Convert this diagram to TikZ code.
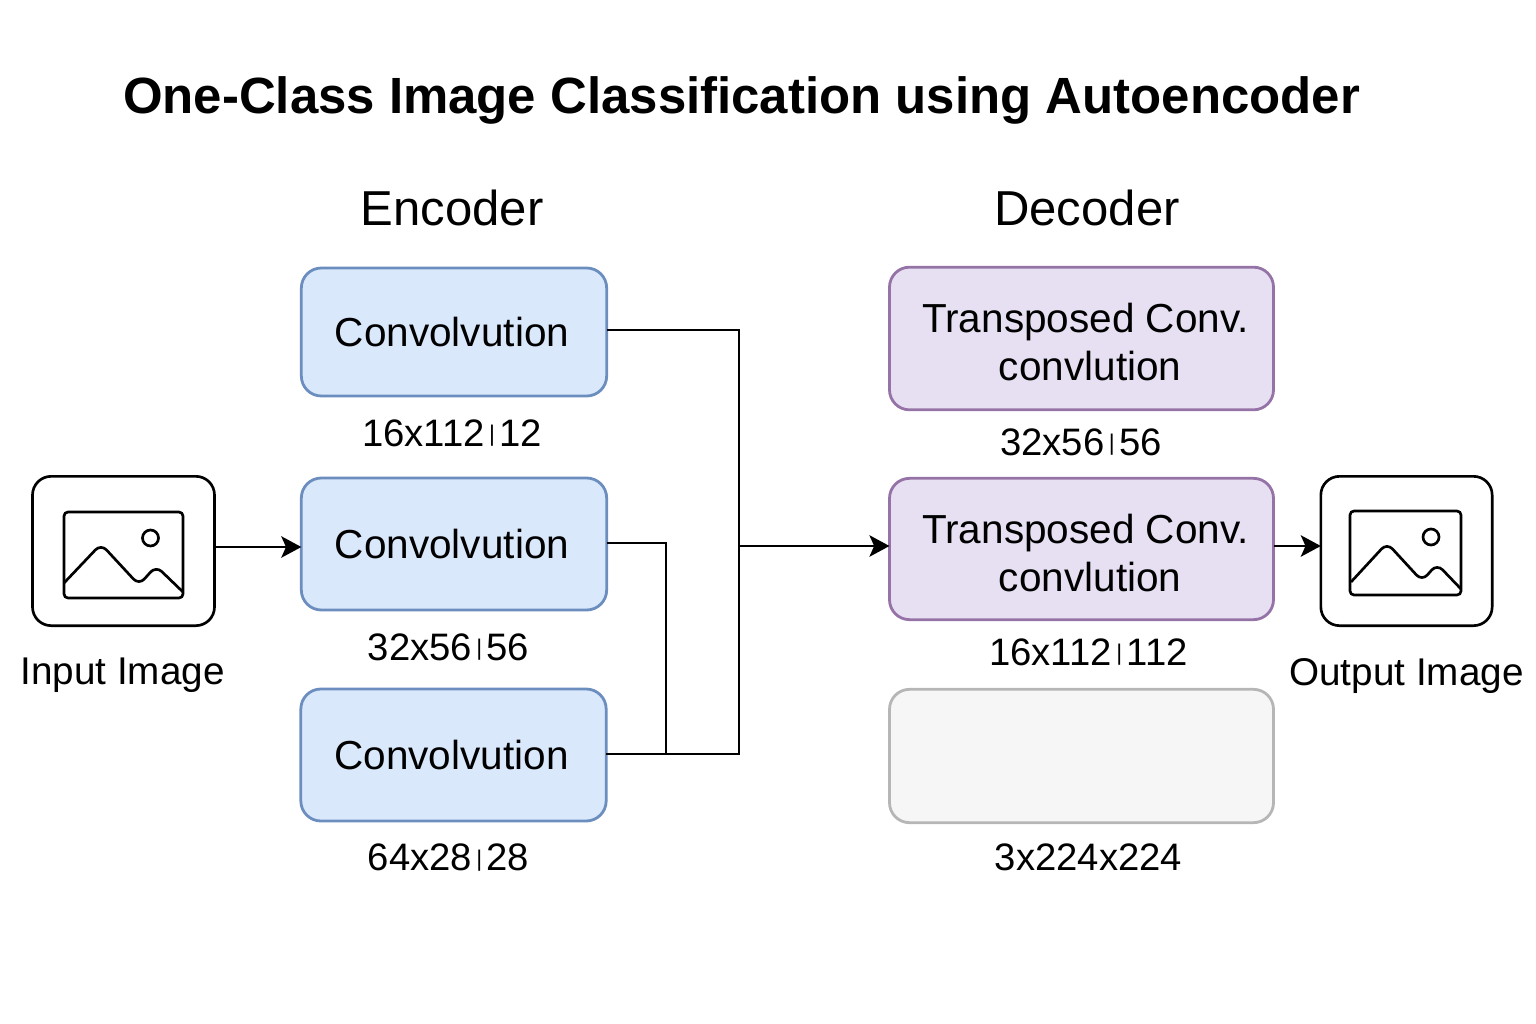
\documentclass[tikz,border=0pt]{standalone}
\usepackage{fontspec}
\setmainfont{Liberation Sans}
\usetikzlibrary{arrows.meta}

\newcommand{\tinybar}{\kern3.3pt\raisebox{3.4pt}{\fontsize{17}{17}\selectfont|}\kern3.3pt}

\tikzset{
  blockbox/.style={draw,rounded corners=15pt,inner sep=0pt,outer sep=0pt,line width=2.1pt,align=center,font=\fontsize{30.4}{36}\selectfont},
  convbox/.style={blockbox,draw=convline,fill=convfill,minimum width=229pt},
  tconvbox/.style={blockbox,draw=tconvline,fill=tconvfill,minimum width=288pt},
  emptybox/.style={blockbox,draw=emptyline,fill=emptyfill,minimum width=288pt},
  imgframe/.style={draw,rounded corners=14pt,inner sep=0pt,outer sep=0pt,line width=2pt},
  imgline/.style={line width=2pt,rounded corners=3pt},
  dimlabel/.style={inner sep=0pt,font=\fontsize{28.7}{34}\selectfont},
  namelabel/.style={inner sep=0pt,font=\fontsize{29}{34}\selectfont},
  headlabel/.style={inner sep=0pt,font=\fontsize{36.8}{42}\selectfont},
  flowline/.style={line width=2.1pt},
  flowarrow/.style={flowline,-{Stealth[length=15pt,width=16pt,inset=3.5pt]}}
}
\definecolor{convline}{RGB}{108,142,191}
\definecolor{convfill}{RGB}{218,232,252}
\definecolor{tconvline}{RGB}{150,115,166}
\definecolor{tconvfill}{RGB}{230,224,242}
\definecolor{emptyline}{RGB}{182,182,182}
\definecolor{emptyfill}{RGB}{246,246,246}

\begin{document}
\begin{tikzpicture}[x=0.75pt,y=0.75pt,yscale=-1,xscale=1]
\path[use as bounding box] (0,0) rectangle (1536,1024);

% Titles
\node (title) [inner sep=0pt,font=\fontsize{38.2}{46}\selectfont\bfseries] at (741.5,100) {One-Class Image Classification using Autoencoder};
\node (enchead) [headlabel] at (452,208) {Encoder};
\node (dechead) [headlabel] at (1087,208) {Decoder};

% Encoder blocks
\node (conv1) [convbox,minimum height=96pt] at (454,332) {Convolvution\hspace*{3pt}};
\node (conv2) [convbox,minimum height=99pt] at (454,544) {Convolvution\hspace*{3pt}};
\node (conv3) [convbox,minimum height=99pt] at (453.5,755) {Convolvution\hspace*{3pt}};

% Decoder blocks
\node (tconv1) [tconvbox,minimum height=107pt] at (1081.5,338.5) {\rule{0pt}{28pt}\hspace*{6pt}Transposed Conv.\\\hspace*{13pt}convlution};
\node (tconv2) [tconvbox,minimum height=106pt] at (1081.5,549) {\rule{0pt}{28pt}\hspace*{6pt}Transposed Conv.\\\hspace*{13pt}convlution};
\node (tconv3) [emptybox,minimum height=100pt] at (1081.5,756) {};

% Size labels
\node (size1) [dimlabel] at (452,433) {16x112\tinybar12};
\node (size2) [dimlabel] at (448.5,647) {32x56\tinybar56};
\node (size3) [dimlabel] at (448.5,857.5) {64x28\tinybar28};
\node (size4) [dimlabel] at (1081,442) {32x56\tinybar56};
\node (size5) [dimlabel] at (1088.5,652) {16x112\tinybar112};
\node (size6) [dimlabel] at (1088.5,857.5) {3x224x224};

% Input image
\node (inframe) [imgframe,minimum width=136.5pt,minimum height=112pt] at (123.5,551) {};
\node (inname) [namelabel] at (122.5,675.5) {Input Image};
\draw [imgline] (64,512) rectangle (183,598);
\draw [imgline,rounded corners=6pt] (64,583) -- (101,544) -- (139,585) -- (156,566) -- (183,592);
\draw [line width=2pt] (150.5,538) circle [radius=8];

% Output image
\node (outframe) [imgframe,minimum width=128.5pt,minimum height=112pt] at (1406.5,551) {};
\node (outname) [namelabel] at (1406.5,676.5) {Output Image};
\draw [imgline] (1350,511) rectangle (1461,595);
\draw [imgline,rounded corners=6pt] (1351,582) -- (1387,543) -- (1422,581) -- (1437,564) -- (1461,589);
\draw [line width=2pt] (1431,537) circle [radius=8];

% Connectors
\coordinate (busin) at (739,546);
\draw [flowarrow] (inframe.east |- 0,547) -- (conv2.west |- 0,547);
\draw [flowline] (conv1.east |- 0,330) -| (739,754) -- (conv3.east |- 0,754);
\draw [flowline] (conv2.east |- 0,543) -| (666,754);
\draw [flowarrow] (busin) -- (tconv2.west |- busin);
\draw [flowarrow] (tconv2.east |- busin) -- (outframe.west |- busin);

\end{tikzpicture}
\end{document}
